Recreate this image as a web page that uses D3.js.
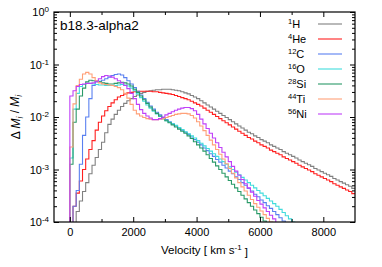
<!DOCTYPE html>
<html>
<head>
<meta charset="utf-8">
<script src="https://cdn.jsdelivr.net/npm/d3@7"></script>
<style>
body { margin: 0; background: #fff; }
text { font-family: "Liberation Sans", Arial, sans-serif; fill: #000; }
</style>
</head>
<body>
<svg id="chart"></svg>
<script>
// log10(dM/M) per 100 km/s bin, first bin starts at 0 km/s
var binWidth = 100;
var logH = [-5.0, -4.6, -3.80, -3.60, -3.42, -3.25, -3.08, -2.92, -2.77, -2.62,
    -2.48, -2.30, -2.14, -2.04, -1.95, -1.87, -1.80, -1.74, -1.69, -1.65,
    -1.61, -1.58, -1.55, -1.53, -1.51, -1.50, -1.49, -1.48, -1.48, -1.47,
    -1.47, -1.47, -1.48, -1.49, -1.50, -1.52, -1.54, -1.56, -1.59, -1.62,
    -1.65, -1.69, -1.73, -1.77, -1.81, -1.85, -1.89, -1.93, -1.97, -2.01,
    -2.05, -2.09, -2.13, -2.17, -2.21, -2.25, -2.29, -2.32, -2.36, -2.39,
    -2.43, -2.46, -2.49, -2.53, -2.56, -2.59, -2.62, -2.66, -2.69, -2.72,
    -2.75, -2.78, -2.82, -2.85, -2.88, -2.91, -2.94, -2.98, -3.01, -3.04,
    -3.07, -3.10, -3.13, -3.17, -3.20, -3.23, -3.26, -3.29, -3.32, -3.36];
var logHe = [-4.5, -3.70, -3.45, -3.22, -3.00, -2.80, -2.62, -2.45, -2.25, -2.10,
    -1.98, -1.88, -1.80, -1.73, -1.67, -1.62, -1.59, -1.56, -1.54, -1.53,
    -1.52, -1.51, -1.51, -1.51, -1.51, -1.51, -1.52, -1.52, -1.53, -1.54,
    -1.55, -1.56, -1.57, -1.59, -1.61, -1.63, -1.65, -1.67, -1.70, -1.73,
    -1.76, -1.79, -1.83, -1.87, -1.91, -1.95, -1.99, -2.03, -2.07, -2.11,
    -2.15, -2.19, -2.23, -2.27, -2.31, -2.35, -2.39, -2.42, -2.46, -2.49,
    -2.53, -2.56, -2.59, -2.63, -2.66, -2.69, -2.72, -2.76, -2.79, -2.82,
    -2.85, -2.88, -2.92, -2.95, -2.98, -3.01, -3.04, -3.08, -3.11, -3.14,
    -3.17, -3.20, -3.23, -3.27, -3.30, -3.33, -3.36, -3.39, -3.42, -3.46];
var logC = [-4.5, -3.70, -3.40, -2.90, -2.35, -2.00, -1.65, -1.40, -1.33, -1.32,
    -1.30, -1.27, -1.24, -1.21, -1.19, -1.18, -1.20, -1.25, -1.31, -1.37,
    -1.44, -1.51, -1.58, -1.65, -1.72, -1.79, -1.85, -1.91, -1.96, -2.01,
    -2.05, -2.09, -2.13, -2.17, -2.21, -2.25, -2.29, -2.33, -2.38, -2.43,
    -2.48, -2.53, -2.59, -2.64, -2.70, -2.75, -2.81, -2.86, -2.92, -2.97,
    -3.03, -3.08, -3.14, -3.19, -3.25, -3.30, -3.36, -3.41, -3.47, -3.52,
    -3.58, -3.63, -3.69, -3.74, -3.80, -3.86, -3.92, -3.98, -4.04];
var logO = [-2.78, -1.85, -1.55, -1.42, -1.38, -1.36, -1.36, -1.37, -1.38, -1.39,
    -1.39, -1.40, -1.40, -1.40, -1.40, -1.39, -1.38, -1.39, -1.41, -1.45,
    -1.50, -1.56, -1.63, -1.70, -1.77, -1.83, -1.89, -1.94, -1.99, -2.03,
    -2.07, -2.10, -2.13, -2.16, -2.20, -2.24, -2.28, -2.32, -2.36, -2.40,
    -2.45, -2.50, -2.55, -2.60, -2.65, -2.70, -2.75, -2.80, -2.85, -2.90,
    -2.95, -3.00, -3.05, -3.10, -3.15, -3.20, -3.25, -3.30, -3.35, -3.40,
    -3.45, -3.50, -3.55, -3.60, -3.65, -3.70, -3.76, -3.82, -3.88, -3.94,
    -4.00, -4.10];
var logSi = [-2.90, -2.10, -1.85, -1.60, -1.45, -1.33, -1.30, -1.31, -1.32, -1.33,
    -1.35, -1.36, -1.37, -1.37, -1.36, -1.35, -1.34, -1.35, -1.37, -1.41,
    -1.47, -1.53, -1.60, -1.67, -1.74, -1.81, -1.87, -1.93, -1.98, -2.03,
    -2.07, -2.11, -2.15, -2.19, -2.23, -2.27, -2.31, -2.36, -2.41, -2.47,
    -2.53, -2.59, -2.65, -2.72, -2.79, -2.86, -2.93, -3.00, -3.07, -3.14,
    -3.21, -3.28, -3.35, -3.42, -3.49, -3.56, -3.63, -3.70, -3.77, -3.84,
    -3.91, -3.98, -4.05];
var logTi = [-2.57, -1.75, -1.40, -1.28, -1.18, -1.15, -1.18, -1.25, -1.31, -1.35,
    -1.37, -1.38, -1.39, -1.40, -1.42, -1.44, -1.48, -1.55, -1.64, -1.76,
    -1.87, -1.94, -1.98, -2.01, -2.03, -2.04, -2.05, -2.05, -2.04, -2.03,
    -2.01, -1.99, -1.97, -1.95, -1.94, -1.93, -1.93, -1.94, -1.97, -2.02,
    -2.09, -2.17, -2.26, -2.35, -2.44, -2.53, -2.62, -2.71, -2.80, -2.89,
    -2.98, -3.07, -3.16, -3.25, -3.33, -3.41, -3.49, -3.57, -3.65, -3.72,
    -3.79, -3.86, -3.93, -4.00, -4.07];
var logNi = [-1.60, -1.50, -1.42, -1.38, -1.37, -1.36, -1.36, -1.35, -1.32, -1.27,
    -1.23, -1.21, -1.22, -1.24, -1.27, -1.31, -1.35, -1.40, -1.46, -1.55,
    -1.65, -1.76, -1.86, -1.93, -1.98, -2.02, -2.05, -2.05, -2.03, -2.00,
    -1.96, -1.93, -1.90, -1.87, -1.85, -1.83, -1.82, -1.82, -1.84, -1.88,
    -1.95, -2.04, -2.13, -2.22, -2.31, -2.40, -2.49, -2.58, -2.67, -2.76,
    -2.85, -2.94, -3.03, -3.11, -3.19, -3.27, -3.35, -3.43, -3.51, -3.59,
    -3.66, -3.73, -3.80, -3.87, -3.94, -4.01];

var massNumbers = ["1", "4", "12", "16", "28", "44", "56"];
var elements = ["H", "He", "C", "O", "Si", "Ti", "Ni"];
var colors = ["#808080", "#ff2020", "#5a80f0", "#40dcdc", "#2a9a68", "#ffa078", "#c040f8"];
var seriesLogs = [logH, logHe, logC, logO, logSi, logTi, logNi];

var xMajor = [0, 2000, 4000, 6000, 8000],
    xMinor = [1000, 3000, 5000, 7000],
    yMajor = [1e-4, 1e-3, 1e-2, 1e-1, 1];

var width = 382,
    height = 267;
var margin = {top: 12, right: 27, bottom: 45, left: 54},
    innerwidth = width - margin.left - margin.right,
    innerheight = height - margin.top - margin.bottom;

var x = d3.scaleLinear().domain([-500, 9000]).range([0, innerwidth]);
var y = d3.scaleLog().domain([1e-4, 1]).range([innerheight, 0]);
var yMinor = y.ticks().filter(function(d) { return yMajor.indexOf(d) < 0; });

var svg = d3.select("#chart")
    .attr("width", width)
    .attr("height", height)
    .append("g")
    .attr("transform", "translate(" + margin.left + "," + margin.top + ")");

svg.append("clipPath").attr("id", "clip")
    .append("rect").attr("width", innerwidth).attr("height", innerheight);

// histogram outlines
var line = d3.line()
    .curve(d3.curveStepAfter)
    .x(function(d) { return x(d.v); })
    .y(function(d) { return y(d.m); });

function toSteps(logs) {
    var pts = [{v: 0, m: 1e-8}];
    logs.forEach(function(l, i) { pts.push({v: i * binWidth, m: Math.pow(10, l)}); });
    pts.push({v: logs.length * binWidth, m: Math.pow(10, logs[logs.length - 1])});
    return pts;
}

svg.append("g").attr("clip-path", "url(#clip)")
    .selectAll("path")
    .data(seriesLogs)
    .enter().append("path")
    .attr("fill", "none")
    .attr("stroke", function(d, i) { return colors[i]; })
    .attr("stroke-width", 1.1)
    .attr("d", function(d) { return line(toSteps(d)); });

// axes, ticks pointing inward
function noDomain(g) { g.select(".domain").remove(); g.selectAll(".tick line").attr("stroke", "#000"); }

svg.append("g")
    .attr("transform", "translate(0," + innerheight + ")")
    .call(d3.axisBottom(x).tickValues(xMajor).tickSize(-5).tickPadding(6).tickFormat(d3.format("d")))
    .call(noDomain)
    .selectAll("text").attr("font-size", "11px").attr("font-family", null);
svg.append("g")
    .attr("transform", "translate(0," + innerheight + ")")
    .call(d3.axisBottom(x).tickValues(xMinor).tickSize(-3).tickFormat(""))
    .call(noDomain);
svg.append("g")
    .call(d3.axisTop(x).tickValues(xMajor).tickSize(-5).tickFormat(""))
    .call(noDomain);
svg.append("g")
    .call(d3.axisTop(x).tickValues(xMinor).tickSize(-3).tickFormat(""))
    .call(noDomain);

var yAxis = svg.append("g")
    .call(d3.axisLeft(y).tickValues(yMajor).tickSize(-5).tickPadding(5))
    .call(noDomain);
yAxis.selectAll(".tick text")
    .attr("font-size", "11px").attr("font-family", null)
    .text(null)
    .each(function(d) {
        var t = d3.select(this);
        t.append("tspan").text("10");
        t.append("tspan").attr("dy", "-0.45em").attr("font-size", "8px").text(Math.round(Math.log10(d)));
    });
svg.append("g")
    .call(d3.axisLeft(y).tickValues(yMinor).tickSize(-3).tickFormat(""))
    .call(noDomain);
svg.append("g")
    .attr("transform", "translate(" + innerwidth + ",0)")
    .call(d3.axisRight(y).tickValues(yMajor).tickSize(-5).tickFormat(""))
    .call(noDomain);
svg.append("g")
    .attr("transform", "translate(" + innerwidth + ",0)")
    .call(d3.axisRight(y).tickValues(yMinor).tickSize(-3).tickFormat(""))
    .call(noDomain);

svg.append("rect")
    .attr("width", innerwidth).attr("height", innerheight)
    .attr("fill", "none").attr("stroke", "#000").attr("stroke-width", 1.2);

// title
svg.append("text")
    .attr("x", 6).attr("y", 17.5)
    .attr("font-size", "13.5px")
    .text("b18.3-alpha2");

// axis titles
var xt = svg.append("text")
    .attr("x", innerwidth / 2).attr("y", innerheight + 32)
    .attr("text-anchor", "middle")
    .attr("font-size", "11.5px");
xt.append("tspan").text("Velocity  [ km s");
xt.append("tspan").attr("dy", "-0.45em").attr("font-size", "8px").text("-1");
xt.append("tspan").attr("dy", "0.45em").text(" ]");

var yt = svg.append("text")
    .attr("transform", "translate(" + (-34) + "," + (innerheight / 2) + ") rotate(-90)")
    .attr("text-anchor", "middle")
    .attr("font-size", "12px");
yt.append("tspan").text("\u0394 ");
yt.append("tspan").attr("font-style", "italic").text("M");
yt.append("tspan").attr("font-style", "italic").attr("font-size", "8.5px").attr("dy", "0.3em").text("i");
yt.append("tspan").attr("dy", "-0.3em").text(" / ");
yt.append("tspan").attr("font-style", "italic").text("M");
yt.append("tspan").attr("font-style", "italic").attr("font-size", "8.5px").attr("dy", "0.3em").text("i");

// legend
var legend = svg.selectAll(".legend")
    .data(elements)
    .enter().append("g")
    .attr("class", "legend")
    .attr("transform", function(d, i) { return "translate(0," + (12 + i * 15) + ")"; });

legend.append("line")
    .attr("x1", 264).attr("x2", 288)
    .attr("stroke", function(d, i) { return colors[i]; })
    .attr("stroke-width", 1.1);

var lt = legend.append("text")
    .attr("x", 234).attr("y", 4)
    .attr("font-size", "11px");
lt.append("tspan").attr("font-size", "7.5px").attr("dy", "-4").text(function(d, i) { return massNumbers[i]; });
lt.append("tspan").attr("dy", "4").text(function(d) { return d; });
</script>
</body>
</html>
